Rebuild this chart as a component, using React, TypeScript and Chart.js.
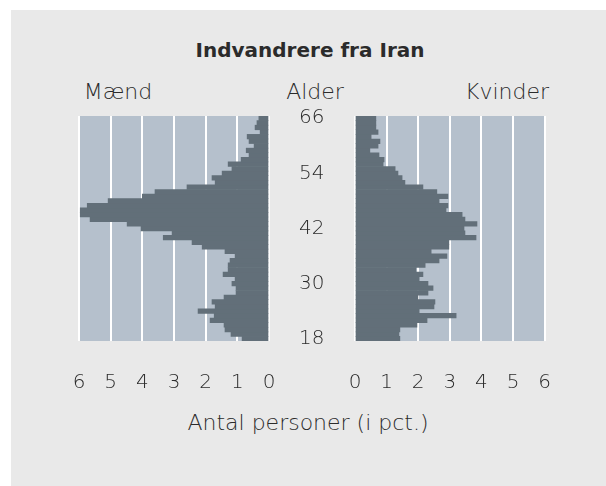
import React, { useEffect, useRef } from "react";
import { Chart, registerables } from "chart.js";

Chart.register(...registerables);

const ages = [18, 19, 20, 21, 22, 23, 24, 25, 26, 27, 28, 29, 30, 31, 32, 33, 34, 35, 36, 37, 38, 39, 40, 41, 42, 43, 44, 45, 46, 47, 48, 49, 50, 51, 52, 53, 54, 55, 56, 57, 58, 59, 60, 61, 62, 63, 64, 65, 66];
const men = [0.85, 1.2, 1.39, 1.42, 1.86, 1.73, 2.24, 1.7, 1.8, 1.42, 1.04, 1.04, 1.17, 1.07, 1.45, 1.29, 1.29, 1.23, 1.07, 1.39, 2.11, 2.43, 3.34, 3.06, 4.04, 4.48, 5.65, 5.96, 5.96, 5.74, 5.08, 4.0, 3.6, 2.59, 1.7, 1.8, 1.48, 1.17, 1.29, 0.88, 0.63, 0.72, 0.47, 0.63, 0.69, 0.28, 0.44, 0.38, 0.32];
const women = [1.42, 1.39, 1.42, 1.96, 2.28, 3.2, 2.03, 2.5, 2.53, 1.99, 2.31, 2.47, 2.31, 2.03, 2.15, 1.93, 2.22, 2.66, 2.91, 2.41, 2.97, 2.97, 3.83, 3.48, 3.45, 3.86, 3.48, 3.39, 2.88, 2.94, 2.66, 2.94, 2.59, 2.15, 1.58, 1.49, 1.36, 1.27, 0.89, 0.92, 0.76, 0.47, 0.73, 0.79, 0.51, 0.73, 0.66, 0.66, 0.66];
const ageTicks = [18, 30, 42, 54, 66];
const xMin = 0;
const xMax = 6;

const TITLE = "Indvandrere fra Iran";
const MEN_LABEL = "Mænd";
const AGE_LABEL = "Alder";
const WOMEN_LABEL = "Kvinder";
const X_TITLE = "Antal personer (i pct.)";

const FONT = "'DejaVu Sans', 'Noto Sans', sans-serif";
const TEXT = "#2b2b2b";
const PLOT_BG = "#b5c0cc";
const BAR = "#626f79";
const PAGE_BG = "#e9e9e9";

const plotBg = {
  id: "plotBg",
  beforeDraw(chart: any) {
    const { ctx, chartArea } = chart;
    ctx.save();
    ctx.fillStyle = PLOT_BG;
    ctx.fillRect(chartArea.left, chartArea.top, chartArea.right - chartArea.left, chartArea.bottom - chartArea.top);
    ctx.restore();
  },
};

function makeConfig(values: number[], side: "left" | "right"): any {
  const isLeft = side === "left";
  const yScale: any = {
    type: "category",
    reverse: true,
    display: isLeft,
    position: "right",
    border: { display: false },
    grid: { display: false, drawTicks: true, tickLength: 30, tickColor: "rgba(0,0,0,0)" },
    ticks: {
      autoSkip: false,
      padding: 0,
      color: TEXT,
      font: { family: FONT, size: 20, weight: 300 },
      callback(this: any, _v: any, i: number) {
        const a = ages[i];
        return ageTicks.includes(a) ? String(a) : "";
      },
    },
  };
  if (isLeft) {
    yScale.afterFit = (scale: any) => {
      scale.width = 90;
    };
  }
  return {
    type: "bar",
    data: {
      labels: ages,
      datasets: [
        {
          data: values,
          backgroundColor: BAR,
          borderWidth: 0,
          barPercentage: 1,
          categoryPercentage: 1,
        },
      ],
    },
    plugins: [plotBg],
    options: {
      indexAxis: "y",
      animation: false,
      responsive: false,
      devicePixelRatio: 1,
      layout: {
        padding: isLeft ? { left: 19, top: 16, right: 0, bottom: 0 } : { left: 10, top: 16, right: 10.4, bottom: 0 },
      },
      plugins: { legend: { display: false }, tooltip: { enabled: false }, title: { display: false } },
      scales: {
        x: {
          type: "linear",
          min: xMin,
          max: xMax,
          reverse: isLeft,
          border: { display: false },
          grid: { color: "#ffffff", lineWidth: 2, drawTicks: true, tickLength: 30, tickColor: "rgba(0,0,0,0)" },
          ticks: {
            stepSize: 1,
            padding: 0,
            color: TEXT,
            font: { family: FONT, size: 20, weight: 300 },
          },
          afterFit(scale: any) {
            scale.height = 79;
          },
        },
        y: yScale,
      },
    },
  };
}

export default function App() {
  const leftRef = useRef<HTMLCanvasElement>(null);
  const rightRef = useRef<HTMLCanvasElement>(null);

  useEffect(() => {
    const l = new Chart(leftRef.current as HTMLCanvasElement, makeConfig(men, "left"));
    const r = new Chart(rightRef.current as HTMLCanvasElement, makeConfig(women, "right"));
    return () => {
      l.destroy();
      r.destroy();
    };
  }, []);

  const txt: React.CSSProperties = {
    position: "absolute",
    fontFamily: FONT,
    color: TEXT,
    fontSize: 22,
    fontWeight: 300,
    whiteSpace: "nowrap",
    lineHeight: "1",
  };

  return (
    <div style={{ position: "absolute", left: 0, top: 0, width: 606, height: 486, background: "#ffffff", overflow: "hidden" }}>
      <div style={{ position: "absolute", left: 11, top: 10, width: 595, height: 476, background: PAGE_BG }} />
      <div style={{ ...txt, left: 310, top: 50, transform: "translate(-50%, -50%)", fontWeight: 700, fontSize: 20 }}>{TITLE}</div>
      <div style={{ ...txt, left: 118, top: 92, transform: "translate(-50%, -50%)" }}>{MEN_LABEL}</div>
      <div style={{ ...txt, left: 315, top: 92, transform: "translate(-50%, -50%)" }}>{AGE_LABEL}</div>
      <div style={{ ...txt, left: 507, top: 92, transform: "translate(-50%, -50%)" }}>{WOMEN_LABEL}</div>
      <div style={{ ...txt, left: 308, top: 423, transform: "translate(-50%, -50%)" }}>{X_TITLE}</div>
      <canvas ref={leftRef} width={299} height={320} style={{ position: "absolute", left: 60, top: 100 }} />
      <canvas ref={rightRef} width={210} height={320} style={{ position: "absolute", left: 345, top: 100 }} />
    </div>
  );
}
